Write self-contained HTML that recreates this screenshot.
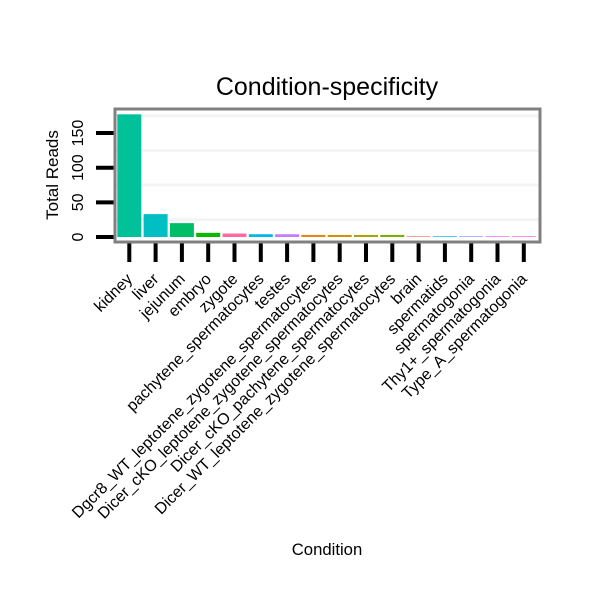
<!DOCTYPE html>
<html><head><meta charset="utf-8"><style>body{margin:0;background:#fff}svg{font-family:"Liberation Sans",sans-serif}</style></head>
<body>
<svg id="c" width="600" height="600">
<rect width="600" height="600" fill="#fff"/>
<text x="327" y="95" font-size="25" text-anchor="middle">Condition-specificity</text>
<text x="327" y="555" font-size="16.7" text-anchor="middle">Condition</text>
<text transform="translate(58,175) rotate(-90)" font-size="17" text-anchor="middle">Total Reads</text>
<g id="grid"></g><g id="bars"></g><g id="axes"></g>
<rect x="115" y="109" width="425" height="133" fill="none" stroke="#808080" stroke-width="3"/>
</svg>
<script>
const categories=["kidney","liver","jejunum","embryo","zygote","pachytene_spermatocytes","testes","Dgcr8_WT_leptotene_zygotene_spermatocytes","Dicer_cKO_leptotene_zygotene_spermatocytes","Dicer_cKO_pachytene_spermatocytes","Dicer_WT_leptotene_zygotene_spermatocytes","brain","spermatids","spermatogonia","Thy1+_spermatogonia","Type_A_spermatogonia"];
const values=[177,33,20,6,5,4,4,3,3,3,3,1,1,1,1,1];
const colors=["#00C19A","#00BFC4","#00BE67","#0CB702","#FF68A1","#00B8E7","#C77CFF","#E68613","#CD9600","#ABA300","#7CAE00","#F8766D","#00A9FF","#8494FF","#ED68ED","#FF61CC"];
const yTicks=[0,50,100,150];
const gridVals=[25,75,125,175];
const NS="http://www.w3.org/2000/svg";
const y0=237,ppu=0.693,x0=129.3,step=26.3,bw=24;
const y=v=>y0-v*ppu, x=i=>x0+i*step;
function mk(t,a,p){const e=document.createElementNS(NS,t);for(const k in a)e.setAttribute(k,a[k]);document.getElementById(p).appendChild(e);return e;}
gridVals.forEach(v=>{const e=mk('line',{x1:116,x2:539,y1:y(v),y2:y(v),stroke:'#f4f4f4','stroke-width':3},'grid');

});
categories.forEach((c,i)=>{
const b=mk('rect',{x:x(i)-bw/2,y:y(values[i]),width:bw,height:values[i]*ppu,fill:colors[i]},'bars');


const t=mk('line',{x1:x(i),x2:x(i),y1:243,y2:262,stroke:'#000','stroke-width':4},'axes');


const l=mk('text',{transform:`translate(${x(i)+4},280) rotate(-45)`,'font-size':16,'text-anchor':'end'},'axes');
l.textContent=c;

});
yTicks.forEach(v=>{
const t=mk('line',{x1:96,x2:114,y1:y(v),y2:y(v),stroke:'#000','stroke-width':4},'axes');


const l=mk('text',{transform:`translate(83,${y(v)}) rotate(-90)`,'font-size':16,'text-anchor':'middle'},'axes');
l.textContent=v;

});
</script>
</body></html>
